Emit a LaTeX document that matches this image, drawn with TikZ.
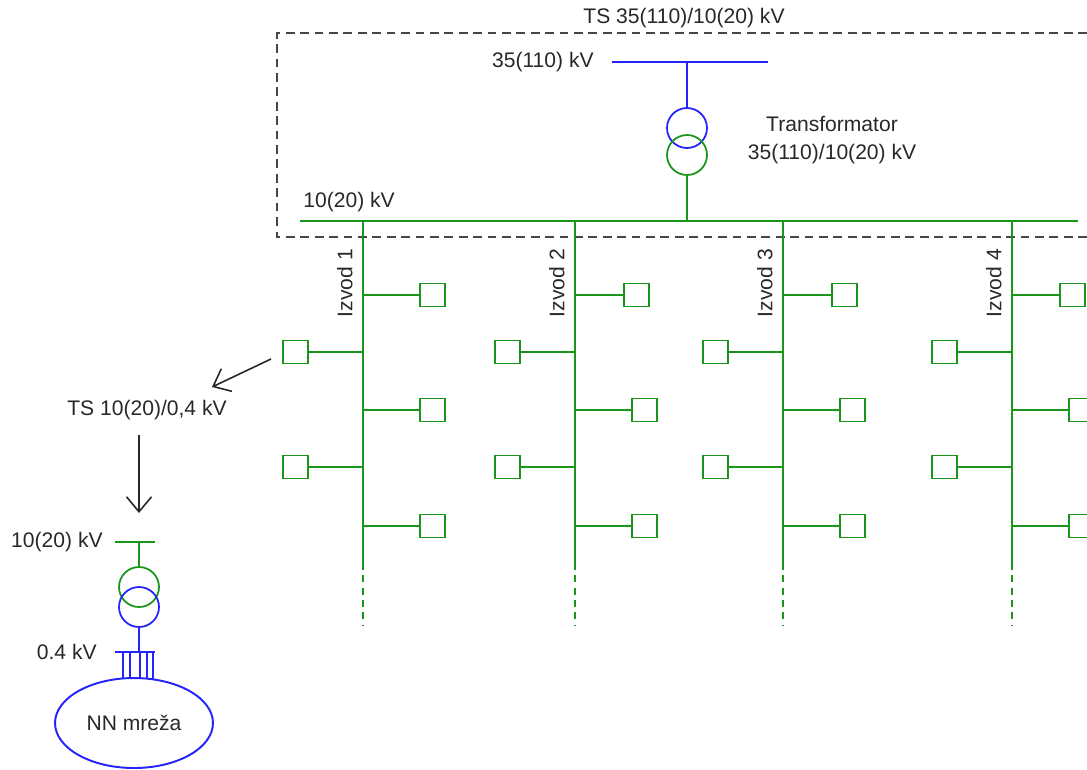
\documentclass[tikz,border=0pt]{standalone}
\usepackage{fontspec}
\setmainfont{Liberation Sans}
\usetikzlibrary{arrows.meta,shapes.geometric}
\definecolor{netgreen}{RGB}{25,150,25}
\definecolor{netblue}{RGB}{35,35,250}
\definecolor{txtgray}{RGB}{40,40,40}
\definecolor{boxgray}{RGB}{70,70,70}
\tikzset{
	lbl/.style={text=txtgray,font=\fontsize{12}{14}\selectfont,inner sep=0pt},
	load/.style={draw=netgreen,line width=0.9pt,minimum width=0.5cm,minimum height=0.46cm,inner sep=0pt},
	gline/.style={draw=netgreen,line width=1.2pt},
	bline/.style={draw=netblue,line width=1.2pt},
	trafo/.style={circle,line width=1pt,minimum size=0.8cm,inner sep=0pt},
	arr/.style={-{Straight Barb[length=3mm,width=5mm]},line width=0.9pt,black!85}
}
\begin{document}
\begin{tikzpicture}[x=0.02cm,y=-0.02cm]
	\useasboundingbox (0,0) rectangle (1087,769);
	\draw [boxgray,line width=1.4pt,dash pattern=on 5pt off 3.2pt] (1087,33) -- (277,33) -- (277,237) -- (1087,237);
	\node[lbl] (ts1) at (684,18) {TS 35(110)/10(20) kV};
	\coordinate (hv1) at (612,62);
	\coordinate (hv2) at (768,62);
	\coordinate (t1) at (687,62);
	\coordinate (t2) at (687,221);
	\draw [bline] (hv1) -- (hv2);
	\node[lbl,anchor=east] (hvl) at (594,62) {35(110) kV};
	\node[trafo,draw=netblue] (tp) at (687,128) {};
	\node[trafo,draw=netgreen] (ts) at (687,155) {};
	\draw [bline] (t1) -- (tp.north);
	\draw [gline] (ts.south) -- (t2);
	\node[lbl,align=center] (trl) at (832,140) {Transformator\\[2pt]35(110)/10(20) kV};
	\coordinate (mv1) at (300,221);
	\coordinate (mv2) at (1078,221);
	\draw [gline] (mv1) -- (mv2);
	\node[lbl,anchor=base west] (mvl) at (303,207) {10(20) kV};
	\foreach \x/\n/\o in {363/1/57,575/2/49,783/3/49,1012/4/48}{
		\coordinate (f\n top) at (\x,221);
		\coordinate (f\n end) at (\x,563);
		\coordinate (f\n dash) at (\x,625);
		\draw [gline] (f\n top) -- (f\n end);
		\draw [gline,dash pattern=on 4pt off 3pt] (f\n end) -- (f\n dash);
		\node[lbl,rotate=90,anchor=south] (iz\n) at (\x-10,283) {Izvod \n};
		\foreach \y/\k/\d in {295/1/\o,410/2/57,526/3/57}{
			\coordinate (f\n r\k) at (\x,\y);
			\node[load] (l\n r\k) at (\x+\d+12.5,\y) {};
			\draw [gline,line width=0.9pt] (f\n r\k) -- (l\n r\k.west);
		}
		\foreach \y/\k in {352/1,467/2}{
			\coordinate (f\n l\k) at (\x,\y);
			\node[load] (l\n l\k) at (\x-55-12.5,\y) {};
			\draw [gline,line width=0.9pt] (f\n l\k) -- (l\n l\k.east);
		}
	}
	\node[lbl] (ts2) at (147,410) {TS 10(20)/0,4 kV};
	\coordinate (a1) at (271,359);
	\coordinate (a2) at (212,387);
	\draw [arr] (a1) -- (a2);
	\coordinate (a3) at (139,435);
	\coordinate (a4) at (139,513);
	\draw [arr] (a3) -- (a4);
	\coordinate (lv1) at (115,542);
	\coordinate (lv2) at (155,542);
	\coordinate (lv3) at (139,542);
	\draw [gline] (lv1) -- (lv2);
	\node[lbl,anchor=east] (lvl) at (103,542) {10(20) kV};
	\node[trafo,draw=netgreen] (tg) at (139,587) {};
	\node[trafo,draw=netblue] (tb) at (139,607) {};
	\draw [gline] (lv3) -- (tg.north);
	\coordinate (nn1) at (115,652);
	\coordinate (nn2) at (155,652);
	\coordinate (nn3) at (139,652);
	\draw [bline] (tb.south) -- (nn3);
	\draw [bline] (nn1) -- (nn2);
	\node[lbl,anchor=east] (nnl) at (97,652) {0.4 kV};
	\node[ellipse,draw=netblue,line width=1.1pt,minimum width=3.16cm,minimum height=1.8cm,text=txtgray,font=\fontsize{12}{14}\selectfont] (nn) at (134,723) {NN mre\v{z}a};
	\foreach \x in {123,130,140,147,153}
		\draw [bline,line width=0.9pt] (\x,652) -- (\x,679);
\end{tikzpicture}
\end{document}
